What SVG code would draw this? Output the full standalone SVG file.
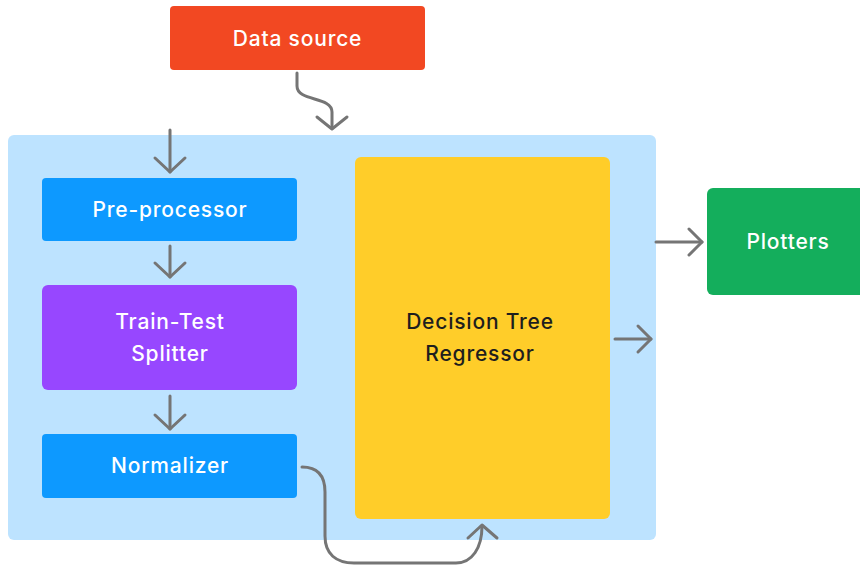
<svg xmlns="http://www.w3.org/2000/svg" width="860" height="568" viewBox="0 0 860 568">
<style>
.lbl{font-family:Inter,"Noto Sans","Liberation Sans",sans-serif;font-size:21px;font-weight:500;letter-spacing:0.8px;fill:#ffffff;text-anchor:middle}
.dark{fill:#1e1e1e}
.con{fill:none;stroke:#757575;stroke-width:3;stroke-linecap:round;stroke-linejoin:round}
</style>
<rect width="860" height="568" fill="#ffffff"/>
<g id="container"><rect x="8" y="135" width="648" height="405" rx="6" fill="#bde3ff"/></g>
<g id="datasource"><rect x="170" y="6" width="255" height="64" rx="4" fill="#f24822"/><text class="lbl" x="297.5" y="46">Data source</text></g>
<g id="preprocessor"><rect x="42" y="178" width="255" height="63" rx="4" fill="#0d99ff"/><text class="lbl" x="170" y="217">Pre-processor</text></g>
<g id="splitter"><rect x="42" y="285" width="255" height="105" rx="6" fill="#9747ff"/><text class="lbl" x="170" y="329">Train-Test</text><text class="lbl" x="170" y="361">Splitter</text></g>
<g id="normalizer"><rect x="42" y="434" width="255" height="64" rx="4" fill="#0d99ff"/><text class="lbl" x="170" y="473">Normalizer</text></g>
<g id="regressor"><rect x="355" y="157" width="255" height="362" rx="6" fill="#ffcd29"/><text class="lbl dark" x="480" y="329">Decision Tree</text><text class="lbl dark" x="480" y="361">Regressor</text></g>
<g id="plotters"><rect x="707" y="188" width="162" height="107" rx="6" fill="#14ae5c"/><text class="lbl" x="788" y="249">Plotters</text></g>
<g id="connectors">
<path class="con" d="M297,73 V86 C297,102 332,96 332,112 V128"/>
<path class="con" d="M317,117 L332,129 L347,117"/>
<path class="con" d="M170,130 V172"/>
<path class="con" d="M155,158 L170,172 L185,158"/>
<path class="con" d="M170,246 V277"/>
<path class="con" d="M155,263 L170,277 L185,263"/>
<path class="con" d="M170,396 V429"/>
<path class="con" d="M155,415 L170,429 L185,415"/>
<path class="con" d="M302,467 C318,467 325,476 325,492 V536 C325,554 336,563 354,563 H456 C472,563 482,548 482,526"/>
<path class="con" d="M468,538 L482,525 L497,538"/>
<path class="con" d="M615,339 H651"/>
<path class="con" d="M638,326 L651,339 L638,352"/>
<path class="con" d="M656,242 H702"/>
<path class="con" d="M689,229 L702,242 L689,255"/>
</g>
</svg>
